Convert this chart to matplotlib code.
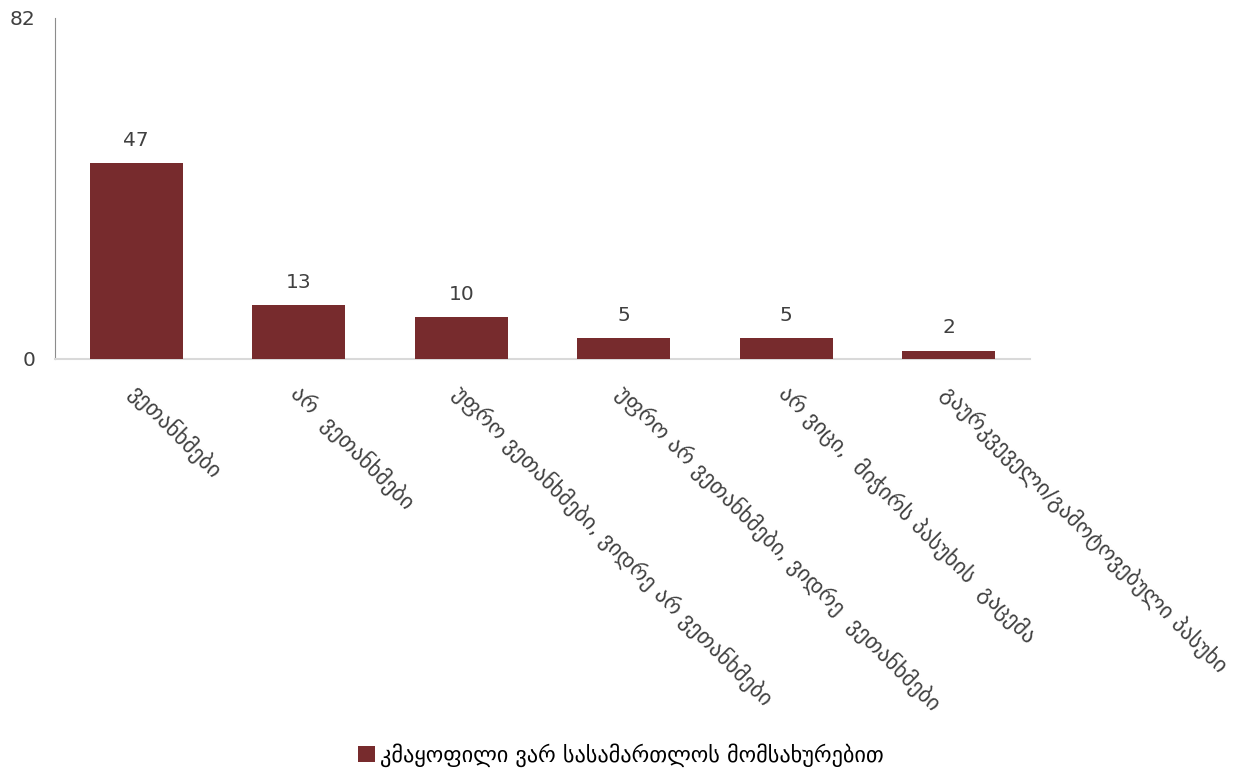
import numpy as np
import matplotlib.pyplot as plt
import matplotlib.transforms as mtransforms
from matplotlib.patches import Patch

categories = [
    "ვეთანხმები",
    "არ  ვეთანხმები",
    "უფრო ვეთანხმები, ვიდრე არ ვეთანხმები",
    "უფრო არ ვეთანხმები, ვიდრე  ვეთანხმები",
    "არ ვიცი,  მიჭირს პასუხის  გაცემა",
    "გაურკვეველი/გამოტოვებული პასუხი",
]
values = [47, 13, 10, 5, 5, 2]
series_name = "კმაყოფილი ვარ სასამართლოს მომსახურებით"
y_max = 82

plt.rcParams['font.family'] = ['DejaVu Sans']
bar_color = '#772B2D'
text_color = '#404040'

fig = plt.figure(figsize=(12.42, 7.72), dpi=100)
ax = fig.add_axes([0.0443, 0.535, 0.785, 0.442])

x = np.arange(len(categories))
ax.bar(x, values, width=0.57, color=bar_color, zorder=3)

for xi, v in zip(x, values):
    ax.text(xi, v + 3.2, str(v), ha='center', va='bottom', fontsize=14.5, color=text_color)

ax.set_xlim(-0.5, len(categories) - 0.5)
ax.set_ylim(0, y_max)
ax.set_yticks([0, y_max])
ax.set_yticklabels(['0', str(y_max)], fontsize=14.5, color=text_color)
ax.tick_params(axis='y', length=0, pad=14)
ax.tick_params(axis='x', length=0, pad=16)
ax.set_xticks(x)
ax.set_xticklabels(categories, rotation=-45, ha='left', va='top',
                   rotation_mode='anchor', fontsize=16, color=text_color)
# nudge labels so the text starts near the tick
offset = mtransforms.ScaledTranslation(0.04, 0, fig.dpi_scale_trans)
for lab in ax.get_xticklabels():
    lab.set_transform(lab.get_transform() + offset)

for s in ['top', 'right']:
    ax.spines[s].set_visible(False)
ax.spines['left'].set_color('#8C8C8C')
ax.spines['bottom'].set_color('#D9D9D9')
ax.spines['bottom'].set_linewidth(1.5)

handle = Patch(facecolor=bar_color, edgecolor='none')
fig.legend([handle], [series_name], loc='center', bbox_to_anchor=(0.5, 0.022),
           frameon=False, fontsize=16, handlelength=0.75, handleheight=0.75,
           handletextpad=0.25, labelcolor='black')

fig.savefig('out.png', dpi=100)
